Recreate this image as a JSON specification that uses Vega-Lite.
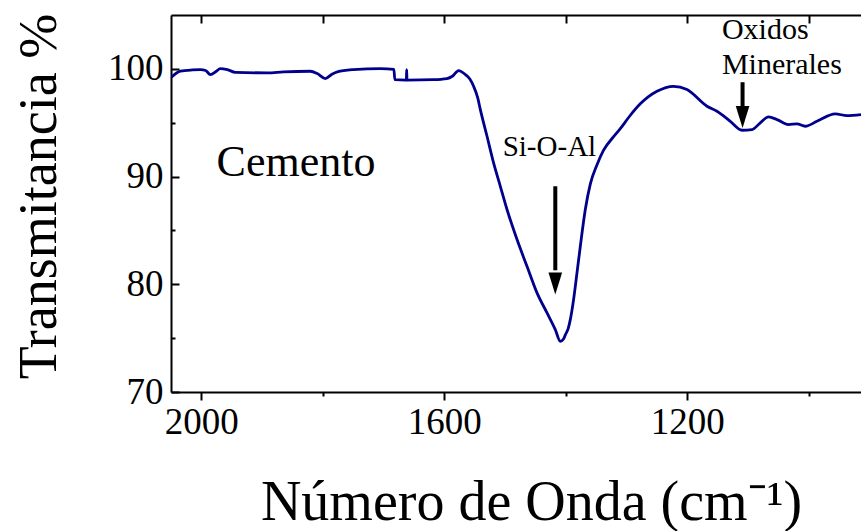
{
  "$schema": "https://vega.github.io/schema/vega-lite/v6.json",
  "width": 690,
  "height": 377,
  "autosize": {"type": "none"},
  "padding": {"left": 171, "top": 15, "right": 0, "bottom": 139},
  "background": "white",
  "config": {
    "view": {"stroke": null},
    "axis": {
      "grid": false,
      "domainColor": "black",
      "domainWidth": 2,
      "tickColor": "black",
      "tickWidth": 2,
      "labelFont": "Liberation Serif",
      "labelFontSize": 37,
      "labelColor": "black",
      "titleFont": "Liberation Serif",
      "titleFontWeight": "normal",
      "titleColor": "black"
    }
  },
  "datasets": {
    "spectrum": [
      {"wn": 2049.4, "t": 99.22}, {"wn": 2034.6, "t": 99.78}, {"wn": 2015, "t": 99.9},
      {"wn": 2001.6, "t": 99.93}, {"wn": 1993, "t": 99.85}, {"wn": 1985.2, "t": 99.47},
      {"wn": 1976, "t": 99.75}, {"wn": 1968.7, "t": 100.03}, {"wn": 1957.2, "t": 99.93},
      {"wn": 1944.0, "t": 99.68}, {"wn": 1891.4, "t": 99.63}, {"wn": 1865.0, "t": 99.72},
      {"wn": 1820.6, "t": 99.78}, {"wn": 1809.1, "t": 99.56}, {"wn": 1795.9, "t": 99.1},
      {"wn": 1785, "t": 99.5}, {"wn": 1776.1, "t": 99.72}, {"wn": 1749.8, "t": 99.93},
      {"wn": 1705.3, "t": 100.03}, {"wn": 1683, "t": 99.95}, {"wn": 1681.5, "t": 99.0},
      {"wn": 1664, "t": 98.96}, {"wn": 1662.5, "t": 98.96}, {"wn": 1662, "t": 99.93},
      {"wn": 1661.5, "t": 98.96}, {"wn": 1618.1, "t": 99.0}, {"wn": 1595.6, "t": 99.1},
      {"wn": 1586.8, "t": 99.31}, {"wn": 1576.5, "t": 99.84}, {"wn": 1565.4, "t": 99.47},
      {"wn": 1558, "t": 99.05}, {"wn": 1551.8, "t": 98.38}, {"wn": 1545, "t": 97.3},
      {"wn": 1540.7, "t": 96.22}, {"wn": 1529.7, "t": 93.74},
      {"wn": 1518.9, "t": 91.27}, {"wn": 1507.8, "t": 89.1}, {"wn": 1496.8, "t": 86.94},
      {"wn": 1480.3, "t": 84.15}, {"wn": 1463.9, "t": 81.67}, {"wn": 1447.4, "t": 79.2},
      {"wn": 1430.9, "t": 77.34}, {"wn": 1417.3, "t": 75.79}, {"wn": 1409.1, "t": 74.71},
      {"wn": 1403.5, "t": 74.95}, {"wn": 1400.8, "t": 75.3}, {"wn": 1396, "t": 75.9},
      {"wn": 1392.6, "t": 76.72}, {"wn": 1387.2, "t": 78.58},
      {"wn": 1381.6, "t": 81.06}, {"wn": 1376.1, "t": 83.53}, {"wn": 1367.9, "t": 86.94},
      {"wn": 1359.7, "t": 89.3}, {"wn": 1348.6, "t": 91.1}, {"wn": 1337.8, "t": 92.45},
      {"wn": 1321.3, "t": 93.7}, {"wn": 1310.3, "t": 94.45}, {"wn": 1295, "t": 95.6},
      {"wn": 1277.4, "t": 96.75},
      {"wn": 1249.9, "t": 97.92}, {"wn": 1222.6, "t": 98.38}, {"wn": 1200.5, "t": 98.08},
      {"wn": 1167.6, "t": 96.53}, {"wn": 1151.1, "t": 96.06}, {"wn": 1129.2, "t": 95.13},
      {"wn": 1109.9, "t": 94.3}, {"wn": 1093.5, "t": 94.36}, {"wn": 1079.8, "t": 94.99},
      {"wn": 1066.2, "t": 95.54}, {"wn": 1052.3, "t": 95.29}, {"wn": 1033.3, "t": 94.83},
      {"wn": 1019.4, "t": 94.89}, {"wn": 1005.8, "t": 94.67}, {"wn": 986.5, "t": 95.13},
      {"wn": 956.4, "t": 95.82}, {"wn": 937.1, "t": 95.66}, {"wn": 914, "t": 95.76}
    ],
    "cemento": [{"wn": 1975, "t": 90.03, "label": "Cemento"}],
    "sioal": [{"wn": 1427, "t": 91.88, "label": "Si-O-Al"}],
    "oxidos": [
      {"wn": 1143, "t": 102.79, "label": "Oxidos"},
      {"wn": 1143, "t": 99.56, "label": "Minerales"}
    ],
    "shafts": [
      {"wn": 1417.3, "t1": 89.1, "t2": 81.3},
      {"wn": 1109.0, "t1": 98.76, "t2": 96.3}
    ],
    "heads": [
      {"wn": 1417.3, "t": 80.08},
      {"wn": 1109.0, "t": 95.52}
    ]
  },
  "resolve": {"axis": {"x": "independent", "y": "independent"}},
  "layer": [
    {
      "data": {"name": "spectrum"},
      "mark": {"type": "line", "color": "#00008C", "strokeWidth": 2.8, "clip": true, "interpolate": "monotone"},
      "encoding": {
        "x": {
          "field": "wn", "type": "quantitative",
          "scale": {"domain": [914, 2050], "reverse": true, "nice": false, "zero": false},
          "axis": {
            "orient": "bottom", "values": [2000, 1600, 1200], "format": "d",
            "tickSize": 8, "labelPadding": 4,
            "title": "Número de Onda (cm⁻¹)", "titleFontSize": 56,
            "titleX": 360, "titleY": 127, "titleAlign": "center", "titleBaseline": "alphabetic"
          }
        },
        "y": {
          "field": "t", "type": "quantitative",
          "scale": {"domain": [70, 105], "nice": false, "zero": false},
          "axis": {
            "orient": "left", "values": [70, 80, 90, 100],
            "tickSize": -8, "labelPadding": 16,
            "title": "Transmitancia %", "titleFontSize": 54, "titleAngle": -90,
            "titleX": -116, "titleY": 181, "titleAlign": "center", "titleBaseline": "alphabetic"
          }
        }
      }
    },
    {
      "data": {"name": "spectrum"},
      "mark": {"type": "line", "strokeOpacity": 0},
      "encoding": {
        "x": {
          "field": "wn", "type": "quantitative",
          "axis": {"orient": "bottom", "values": [1800, 1400, 1000], "tickSize": 4, "labels": false, "domain": false, "title": null}
        },
        "y": {
          "field": "t", "type": "quantitative",
          "axis": {"orient": "left", "values": [75, 85, 95], "tickSize": -4, "labels": false, "domain": false, "title": null}
        }
      }
    },
    {
      "data": {"name": "spectrum"},
      "mark": {"type": "line", "strokeOpacity": 0},
      "encoding": {
        "x": {
          "field": "wn", "type": "quantitative",
          "axis": {"orient": "top", "values": [2000, 1800, 1600, 1400, 1200, 1000], "tickSize": -8, "labels": false, "domain": true, "title": null}
        },
        "y": {"field": "t", "type": "quantitative", "axis": null}
      }
    },
    {
      "data": {"name": "cemento"},
      "mark": {"type": "text", "font": "Liberation Serif", "fontSize": 44, "align": "left", "baseline": "alphabetic", "color": "black"},
      "encoding": {
        "x": {"field": "wn", "type": "quantitative", "axis": null},
        "y": {"field": "t", "type": "quantitative", "axis": null},
        "text": {"field": "label"}
      }
    },
    {
      "data": {"name": "sioal"},
      "mark": {"type": "text", "font": "Liberation Serif", "fontSize": 29, "align": "center", "baseline": "alphabetic", "color": "black"},
      "encoding": {
        "x": {"field": "wn", "type": "quantitative", "axis": null},
        "y": {"field": "t", "type": "quantitative", "axis": null},
        "text": {"field": "label"}
      }
    },
    {
      "data": {"name": "oxidos"},
      "mark": {"type": "text", "font": "Liberation Serif", "fontSize": 30, "align": "left", "baseline": "alphabetic", "color": "black"},
      "encoding": {
        "x": {"field": "wn", "type": "quantitative", "axis": null},
        "y": {"field": "t", "type": "quantitative", "axis": null},
        "text": {"field": "label"}
      }
    },
    {
      "data": {"name": "shafts"},
      "mark": {"type": "rule", "color": "black", "strokeWidth": 4},
      "encoding": {
        "x": {"field": "wn", "type": "quantitative", "axis": null},
        "y": {"field": "t1", "type": "quantitative", "axis": null},
        "y2": {"field": "t2"}
      }
    },
    {
      "data": {"name": "heads"},
      "mark": {"type": "point", "shape": "M-0.62,-1L0.62,-1L0,1Z", "size": 484, "filled": true, "opacity": 1, "color": "black", "strokeWidth": 0},
      "encoding": {
        "x": {"field": "wn", "type": "quantitative", "axis": null},
        "y": {"field": "t", "type": "quantitative", "axis": null}
      }
    }
  ]
}
